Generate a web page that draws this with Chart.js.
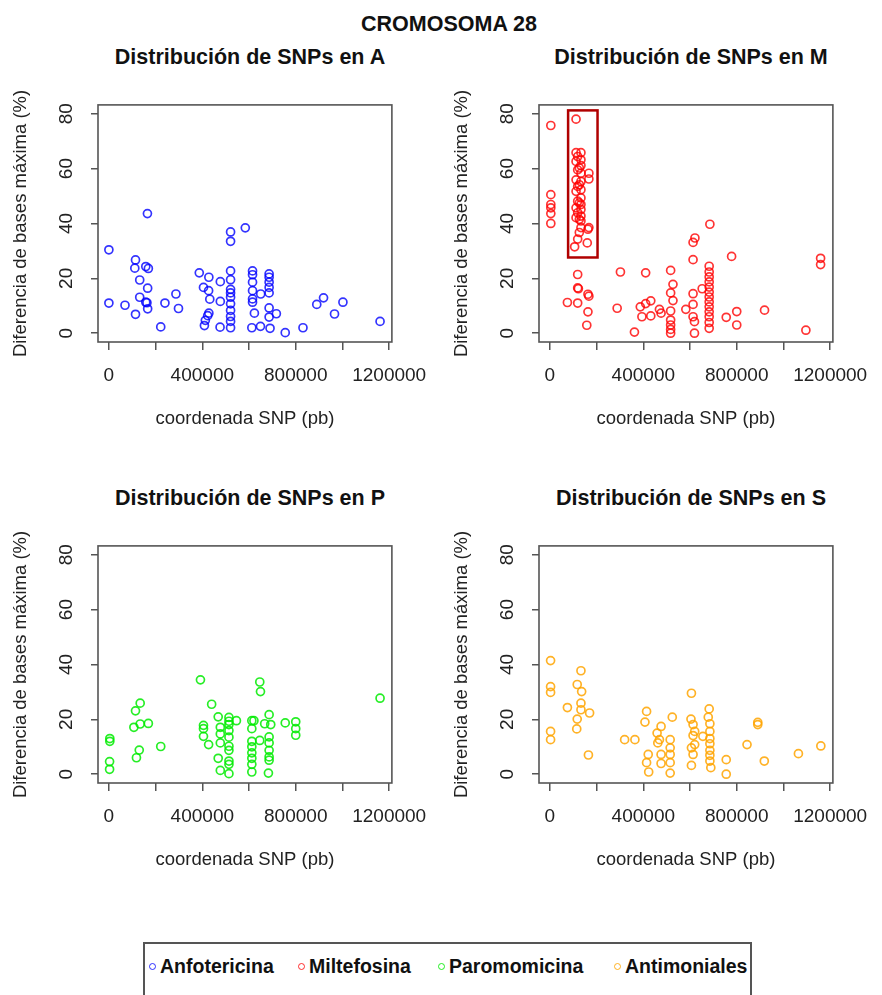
<!DOCTYPE html>
<html>
<head>
<meta charset="utf-8">
<script src="https://cdn.jsdelivr.net/npm/chart.js@4/dist/chart.umd.min.js"></script>
<style>
  body { margin: 0; width: 882px; height: 995px; overflow: hidden; background: #fff; position: relative;
         font-family: "Liberation Sans", Arial, sans-serif; }
  canvas { position: absolute; }
  .ttl { position: absolute; width: 420px; text-align: center; font-weight: bold; font-size: 21.5px;
         line-height: 26px; color: #111; }
  #legend { position: absolute; left: 143px; top: 942px; width: 609px; height: 70px; box-sizing: border-box;
            border: 2px solid #555; }
  .li { position: absolute; top: 10px; font-weight: bold; font-size: 19.5px; line-height: 24px; color: #111; }
  .dot { position: absolute; top: 19px; width: 5px; height: 5px; border-radius: 50%; border: 1.4px solid; }
</style>
</head>
<body>
<div class="ttl" style="left:239px; top:11px;">CROMOSOMA 28</div>
<div class="ttl" style="left:40px; top:44px;">Distribución de SNPs en A</div>
<div class="ttl" style="left:481px; top:44px;">Distribución de SNPs en M</div>
<div class="ttl" style="left:40px; top:485px;">Distribución de SNPs en P</div>
<div class="ttl" style="left:481px; top:485px;">Distribución de SNPs en S</div>

<canvas id="chartA" width="441" height="380" style="left:0; top:80px;"></canvas>
<canvas id="chartM" width="441" height="380" style="left:441px; top:80px;"></canvas>
<canvas id="chartP" width="441" height="380" style="left:0; top:521px;"></canvas>
<canvas id="chartS" width="441" height="380" style="left:441px; top:521px;"></canvas>

<div id="legend"></div>

<script>
// tick labels (R leaves every other x label out)
const xTicks = [0, 200000, 400000, 600000, 800000, 1000000, 1200000];
const xTickLabels = ['0', '', '400000', '', '800000', '', '1200000'];
const yTicks = [0, 20, 40, 60, 80];

const drugs = ['Anfotericina', 'Miltefosina', 'Paromomicina', 'Antimoniales'];
const drugColors = ['rgba(0,0,255,0.8)', 'rgba(255,0,0,0.8)', 'rgba(0,235,0,0.85)', 'rgba(255,165,0,0.85)'];

// A - anfotericina
const aX = [165000, 0, 521000, 521000, 584000, 114000, 111000, 158000, 169000, 132000,
            166000, 132000, 158000, 163000, 166000, 0, 69000, 114000, 240000, 287000,
            298000, 222000, 387000, 428000, 405000, 427000, 432000, 477000, 477000, 428000,
            423000, 413000, 409000, 476000,
            521000, 521000, 521000, 521000, 521000, 521000, 521000, 521000, 521000, 521000,
            615000, 615000, 615000, 615000, 615000, 615000, 623000, 612000, 649000,
            686000, 686000, 686000, 686000, 686000, 686000, 686000, 690000, 650000, 717000,
            755000, 831000, 890000, 919000, 966000, 1002000, 1161000];
const aY = [43.6, 30.4, 36.9, 33.5, 38.4, 26.7, 23.7, 24.3, 23.6, 19.4,
            16.4, 13.1, 11.3, 11.1, 8.9, 11.0, 10.2, 6.9, 11.0, 14.3,
            9.0, 2.3, 22.0, 20.4, 16.7, 15.5, 12.4, 18.8, 11.6, 7.3,
            6.4, 4.7, 2.8, 2.2,
            22.7, 19.5, 16.0, 14.7, 13.1, 10.7, 8.3, 6.1, 4.3, 2.0,
            22.7, 21.3, 18.6, 15.5, 12.5, 11.3, 7.3, 2.0, 2.5,
            21.6, 20.4, 18.6, 16.7, 14.7, 9.2, 5.9, 1.8, 14.3, 7.1,
            0.2, 2.0, 10.5, 12.9, 7.0, 11.3, 4.3];

// M - miltefosina
const mX = [4000, 112000,
            112000, 112000, 112000, 112000, 112000, 112000,
            119000, 119000, 119000, 119000, 119000, 119000,
            133000, 133000, 133000, 133000, 133000, 133000, 133000, 133000, 133000, 133000, 133000, 133000,
            126000, 126000, 126000, 126000, 126000,
            167000, 167000, 167000, 163000, 106000, 160000,
            4000, 4000, 4000, 4000, 4000,
            119000, 119000, 122000, 163000, 167000, 75000, 119000, 163000, 158000,
            302000, 288000, 362000, 410000, 410000, 432000, 387000, 394000, 432000, 469000, 476000,
            517000, 517000, 517000, 517000, 517000, 517000, 517000, 527000, 527000, 582000,
            613000, 613000, 613000, 613000, 613000, 619000, 619000, 621000, 685000,
            682000, 682000, 682000, 682000, 682000, 682000, 682000, 682000, 682000, 682000, 682000, 682000, 682000,
            652000, 778000, 755000, 800000, 800000, 919000, 1096000, 1159000, 1159000];
const mY = [75.7, 78.0,
            65.8, 62.6, 55.9, 51.7, 45.7, 42.1,
            64.4, 59.5, 53.5, 48.1, 43.9, 34.3,
            65.8, 63.2, 61.1, 58.3, 55.3, 52.3, 49.3, 46.9, 45.1, 42.7, 40.9, 38.5,
            60.2, 54.1, 47.5, 41.5, 36.7,
            58.3, 56.2, 38.5, 37.9, 31.5, 32.9,
            50.5, 46.9, 45.7, 43.6, 40.0,
            21.4, 16.5, 16.2, 14.2, 13.5, 11.2, 11.0, 7.8, 2.9,
            22.3, 9.1, 0.4, 22.0, 10.8, 11.8, 9.6, 6.0, 6.3, 8.7, 7.3,
            22.9, 14.7, 8.1, 4.8, 3.0, 1.4, 0.0, 17.8, 11.9, 8.7,
            14.4, 10.5, 6.0, 26.8, 33.1, 4.2, 0.0, 34.7, 39.7,
            24.4, 22.3, 20.5, 18.7, 16.8, 15.0, 13.2, 11.4, 9.6, 7.8, 6.0, 3.9, 1.8,
            16.2, 28.0, 5.8, 7.9, 3.0, 8.4, 1.1, 27.3, 25.0];

// P - paromomicina
const pX = [4000, 4000, 3000, 3000, 134000, 114000, 107000, 134000, 169000, 130000,
            118000, 222000, 392000, 440000, 405000, 405000, 405000, 427000, 468000,
            477000, 477000, 477000, 468000, 477000,
            514000, 514000, 514000, 514000, 514000, 514000, 514000, 514000, 514000, 514000,
            546000, 612000, 612000, 612000, 612000, 612000, 612000, 612000, 612000, 621000,
            646000, 649000, 646000, 667000, 686000, 693000,
            686000, 686000, 686000, 686000, 686000, 683000, 755000, 800000, 800000, 800000, 1161000];
const pY = [13.0, 12.0, 4.6, 1.8, 25.9, 23.1, 17.1, 18.3, 18.5, 8.8,
            6.0, 10.1, 34.4, 25.5, 17.8, 16.6, 13.8, 10.8, 20.9,
            17.1, 14.7, 11.4, 5.8, 1.4,
            20.7, 19.3, 18.1, 15.9, 13.5, 10.2, 8.7, 4.8, 3.6, 0.2,
            19.5, 19.5, 16.6, 12.0, 10.0, 7.8, 5.8, 3.6, 0.8, 19.5,
            33.6, 30.1, 12.3, 18.4, 21.7, 18.1,
            13.6, 11.4, 8.7, 6.3, 5.1, 0.4, 18.7, 19.1, 16.6, 14.2, 27.7];

// S - antimoniales
const sX = [3000, 3000, 3000, 3000, 3000, 75000, 133000, 117000, 136000, 133000,
            133000, 170000, 117000, 115000, 165000, 320000, 364000, 414000, 407000, 476000,
            459000, 469000, 462000, 524000, 515000, 515000, 515000, 515000, 515000, 476000,
            476000, 421000, 414000, 423000, 606000, 604000, 613000, 620000, 613000, 620000,
            606000, 613000, 606000, 655000, 682000, 678000,
            685000, 685000, 685000, 685000, 685000, 685000, 685000, 689000,
            755000, 755000, 844000, 890000, 890000, 918000, 1064000, 1160000];
const sY = [41.4, 31.9, 29.8, 15.6, 12.6, 24.3, 37.7, 32.7, 30.1, 25.9,
            23.5, 22.3, 20.1, 16.5, 7.0, 12.6, 12.6, 22.9, 19.0, 17.4,
            15.0, 12.6, 11.4, 20.8, 12.6, 9.6, 7.2, 4.2, 0.4, 7.2,
            3.9, 7.2, 4.2, 0.8, 29.5, 20.1, 18.1, 15.6, 14.1, 10.8,
            9.6, 7.2, 3.2, 13.8, 23.8, 20.8,
            18.4, 15.6, 13.0, 11.1, 8.7, 6.9, 4.8, 2.4,
            5.3, 0.0, 10.8, 18.9, 18.1, 4.8, 7.5, 10.3];

// highlighted region in M (data coordinates)
const boxM = { xMin: 78000, xMax: 204000, yMin: 27.6, yMax: 81.2 };

const axisFont = { family: 'Liberation Sans, Arial, sans-serif', size: 18.5 };
const tickFont = { family: 'Liberation Sans, Arial, sans-serif', size: 19 };

const framePlugin = {
  id: 'frame',
  beforeDatasetsDraw(chart) {
    const { ctx, chartArea: a } = chart;
    ctx.save();
    ctx.strokeStyle = '#555';
    ctx.lineWidth = 1.6;
    ctx.strokeRect(a.left, a.top, a.right - a.left, a.bottom - a.top);
    ctx.restore();
  }
};

const highlightPlugin = {
  id: 'highlight',
  afterDatasetsDraw(chart) {
    const { ctx, scales: { x, y } } = chart;
    const l = x.getPixelForValue(boxM.xMin), r = x.getPixelForValue(boxM.xMax);
    const t = y.getPixelForValue(boxM.yMax), b = y.getPixelForValue(boxM.yMin);
    ctx.save();
    ctx.strokeStyle = '#b00000';
    ctx.lineWidth = 2.5;
    ctx.strokeRect(l, t, r - l, b - t);
    ctx.restore();
  }
};

function makePanel(id, xs, ys, color, extra) {
  const pts = xs.map((v, i) => ({ x: v, y: ys[i] }));
  return new Chart(document.getElementById(id), {
    type: 'scatter',
    data: {
      datasets: [{
        data: pts,
        pointStyle: 'circle',
        pointRadius: 4,
        pointBorderWidth: 1.7,
        pointBackgroundColor: 'rgba(0,0,0,0)',
        pointBorderColor: color,
        clip: false
      }]
    },
    options: {
      responsive: false,
      animation: false,
      devicePixelRatio: 1,
      events: [],
      layout: { padding: { left: 0, top: 23, right: 37, bottom: 0 } },
      plugins: { legend: { display: false }, tooltip: { enabled: false } },
      scales: {
        x: {
          type: 'linear',
          min: -46600,
          max: 1211600,
          afterBuildTicks: axis => { axis.ticks = xTicks.map(v => ({ value: v })); },
          afterFit: axis => { axis.height = 118; },
          grid: { drawOnChartArea: false, drawTicks: true, tickLength: 8, color: '#555', lineWidth: 1.5 },
          border: { display: false },
          ticks: {
            autoSkip: false, maxRotation: 0, padding: 14.5, color: '#222', font: tickFont,
            callback: (v, i) => xTickLabels[i]
          },
          title: { display: true, text: 'coordenada SNP (pb)', color: '#222', font: axisFont, padding: { top: 0, bottom: 30 } }
        },
        y: {
          type: 'linear',
          min: -3.2,
          max: 83.2,
          afterBuildTicks: axis => { axis.ticks = yTicks.map(v => ({ value: v })); },
          afterFit: axis => { axis.width = 98; },
          grid: { drawOnChartArea: false, drawTicks: true, tickLength: 7, color: '#555', lineWidth: 1.5 },
          border: { display: false },
          ticks: {
            autoSkip: false, minRotation: 90, maxRotation: 90, crossAlign: 'center', padding: 13.5,
            color: '#222', font: tickFont,
            callback: v => String(v)
          },
          title: { display: true, text: 'Diferencia de bases máxima (%)', color: '#222', font: axisFont, padding: { top: 10, bottom: 0 } }
        }
      }
    },
    plugins: [framePlugin].concat(extra || [])
  });
}

makePanel('chartA', aX, aY, drugColors[0]);
makePanel('chartM', mX, mY, drugColors[1], [highlightPlugin]);
makePanel('chartP', pX, pY, drugColors[2]);
makePanel('chartS', sX, sY, drugColors[3]);

// legend along the bottom
const legendTextLeft = [15, 164, 304, 480];
const legend = document.getElementById('legend');
drugs.forEach((name, i) => {
  const dot = document.createElement('span');
  dot.className = 'dot';
  dot.style.left = (legendTextLeft[i] - 11) + 'px';
  dot.style.borderColor = drugColors[i];
  legend.appendChild(dot);
  const lab = document.createElement('span');
  lab.className = 'li';
  lab.style.left = legendTextLeft[i] + 'px';
  lab.textContent = name;
  legend.appendChild(lab);
});
</script>
</body>
</html>
